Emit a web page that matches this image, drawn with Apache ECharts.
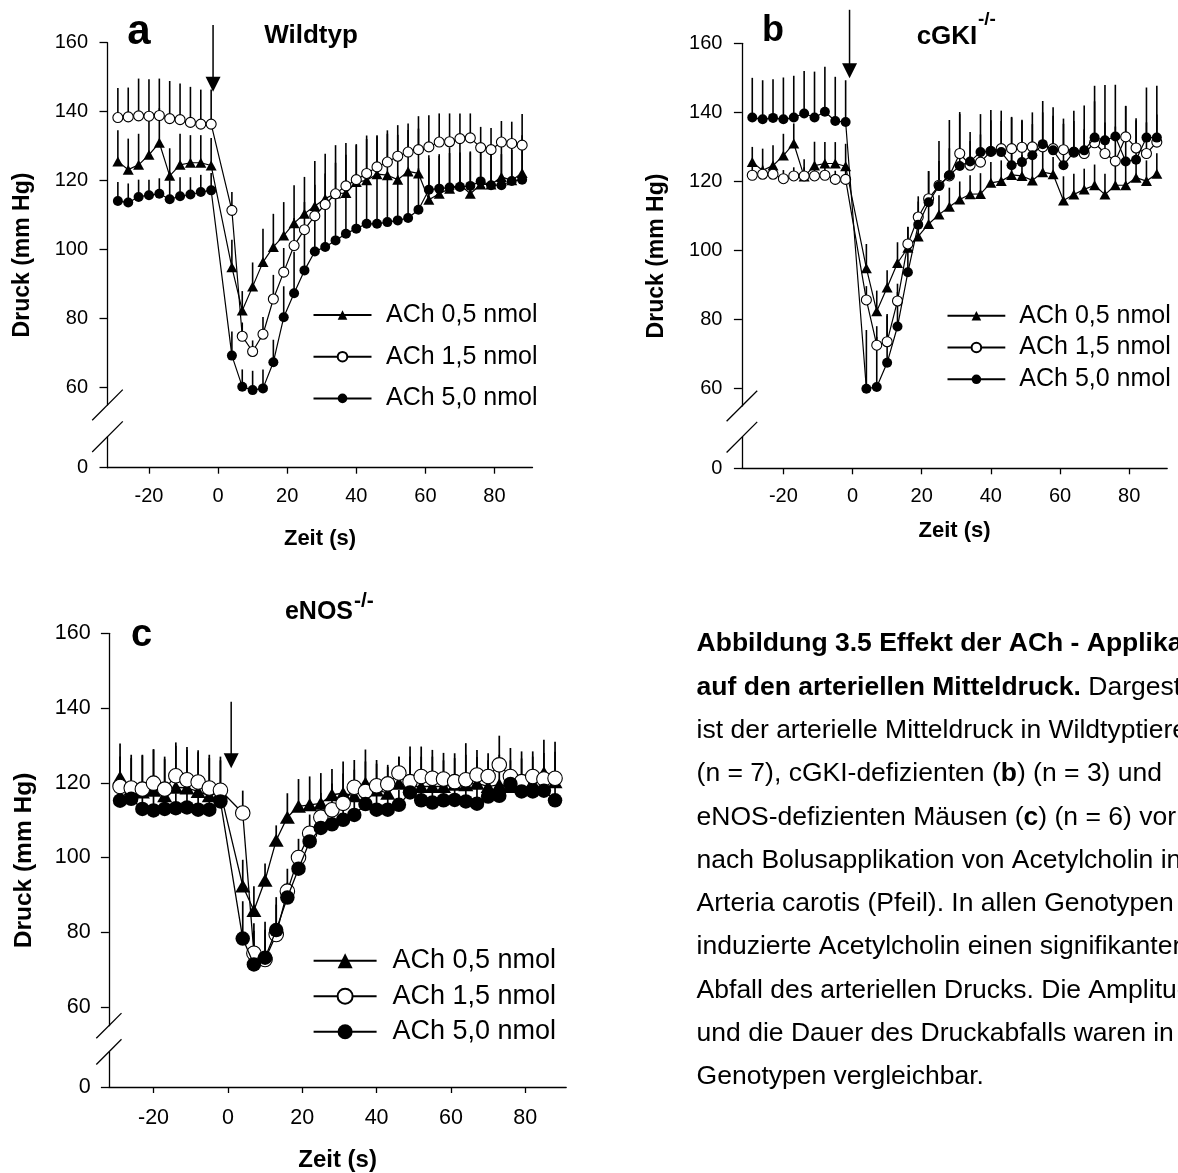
<!DOCTYPE html>
<html><head><meta charset="utf-8">
<script src="https://cdn.jsdelivr.net/npm/echarts@6/dist/echarts.min.js"></script>
<style>html,body{margin:0;padding:0;background:#fff}#c{width:1178px;height:1173px}</style>
</head><body><div id="c"></div>
<script>
// ---------- data ----------
const T = [-29,-26,-23,-20,-17,-14,-11,-8,-5,-2,4,7,10,13,16,19,22,25,28,31,34,37,40,43,46,49,52,55,58,61,64,67,70,73,76,79,82,85,88];
const NAMES = ['ACh 0,5 nmol','ACh 1,5 nmol','ACh 5,0 nmol'];
const X_TICKS = [-20,0,20,40,60,80];
const Y_TICKS = [60,80,100,120,140,160];
const Y_LOW_TICKS = [0];

// Panel a: Wildtyp
const A05  = [125.6,123.2,124.6,127.5,131.0,121.4,124.6,125.2,125.2,124.4, 94.9,82.4,89.3,96.4,100.8,104.1,107.7,110.4,112.7,114.8, 116.3,116.4,119.6,120.1,121.9,121.6,120.3,122.7,122.1,114.5, 116.2,117.7,118.9,116.2,118.9,118.9,121.1,120.1,122.2];
const A05e = [9,9,9,10,10,8,9,8,8,8, 8,5.6,7,9.7,9.6,9.7,11,10.7,13,13, 14,14.5,11,12,11,12,13,12,13,12, 11,12,12,12,11,11,10,10,11];
const A15  = [138.3,138.5,138.8,138.7,138.9,138.0,137.7,136.9,136.4,136.4, 111.4,74.9,70.5,75.5,85.7,93.5,101.2,105.8,109.8,113.1, 116.2,118.5,120.3,122.1,124.0,125.4,127.1,128.3,129.0,129.8, 131.2,131.3,132.2,132.4,129.6,129.0,131.2,130.8,130.3];
const A15e = [8.6,8.5,10.8,10.7,10.7,10.9,10.5,10.3,10,10, 5.3,4,3.2,5,7,7,8,8,9,9, 9,9,10,11,9.2,9.2,9,8.3,9.7,9.2, 8.3,8.2,7.3,7.1,6,6.3,6.1,6.3,9];
const A50  = [114.1,113.7,115.3,115.8,116.2,114.6,115.5,116.0,116.7,117.2, 69.3,60.3,59.3,59.8,67.4,80.4,87.4,94.0,99.5,100.8, 102.7,104.6,106.1,107.5,107.5,108.0,108.5,109.2,111.6,117.4, 117.7,118.0,118.2,118.5,119.8,118.7,118.7,119.9,120.3];
const A50e = [5.5,5.5,5,4.5,4.5,5.5,5.5,5,5,5, 7,5,5.6,5.5,6.5,9,12,12,13,13, 13,13,13,13,13,13,13,13,12,10, 10,10,10,10,9,9,9,9,9];

// Panel b: cGKI-/-
const B05  = [125.6,123.2,124.6,127.5,131.0,121.4,124.6,125.2,125.2,124.4, 94.9,82.4,89.3,96.4,100.8,104.1,107.7,110.4,112.7,114.8, 116.3,116.4,119.6,120.1,121.9,121.6,120.3,122.7,122.1,114.5, 116.2,117.7,118.9,116.2,118.9,118.9,121.1,120.1,122.2];
const B05e = [4.4,6.3,5.9,6.3,5.8,5,6.9,6.2,6.2,6.5, 7,6,5,6,6,5.5,5.6,5.6,5.5,5.2, 5.5,6,6,6,6,6,6,6,5,7, 6,6,6,6,6,6,6,6,6];
const B15  = [121.8,122.1,122.1,120.8,121.6,121.6,121.6,121.8,120.6,120.6, 85.7,72.6,73.6,85.4,101.9,109.7,115.0,118.9,121.6,128.1, 124.7,125.6,128.7,129.5,129.5,129.9,130.0,130.0,129.5,129.2, 128.5,128.1,131.2,128.1,125.9,132.9,129.7,128.1,131.4];
const B15e = [2.5,2.5,2.5,2.5,2.5,2.5,2.5,2.5,2.5,2.5, 4,5.5,8,5,5,6,8,7,8,12, 7,8,9,8,9,8,10,10,12,9, 9,7,12,9,10,9,8,9,8];
const B50  = [138.5,138.0,138.4,138.0,138.5,139.7,138.5,140.2,137.5,137.2, 60.0,60.5,67.5,78.0,93.7,107.5,114.0,118.7,121.8,124.5, 125.8,128.5,128.7,128.5,124.7,125.6,127.6,130.8,129.0,124.7, 128.5,129.0,132.7,131.9,133.0,125.8,126.3,132.7,132.7];
const B50e = [11.5,11.3,11.2,12.1,12.1,12.3,13.3,13.0,12.8,12.1, 17,14.5,13.7,10,7,6.7,9,13,16,15, 8.5,11,12,12,14,12,9,12.5,10,12, 12,13,15,16,15,16,12,14.5,15];

// Panel c: eNOS-/-
const C05  = [121.5,118.5,117.5,118,116.5,118.8,118.6,117.7,116.5,117.5, 92.4,85.8,93.9,104.6,110.8,113.7,114.1,114.5,116.8,117.2, 116.5,119.9,118.1,117.2,119.9,119.0,119.0,119.0,119.0,119.6, 119.5,119.9,119.0,119.5,119.0,119.5,120.0,122.7,120.3];
const C05e = [9,9,10,11,10.5,12,11,11,11,9.5, 7,6.5,4.5,4,6.4,7.3,7.6,8.1,6.9,8.5, 7,9,7,7,7,8,8,8,7,7, 8,7,7,8,7,7,7,8.8,8];
const C15  = [119.0,118.6,118.3,119.9,118.3,121.9,120.8,120.2,118.6,118.0, 111.9,74.4,72.7,79.4,91.0,100.0,106.5,110.8,112.8,114.5, 118.8,117.7,119.2,119.7,122.6,120.3,121.7,121.2,121.0,120.3, 120.8,122.1,121.7,124.8,121.7,120.3,121.7,121.0,121.2];
const C15e = [8,8,9,9,8,8,8,8,8,8, 6,8,8,8,6,5,5,6.5,7,8, 7.3,8,6.9,5.1,4.4,9.4,8,7.6,7,7.6, 9.8,6.7,6.2,7.8,7.6,8.1,6.7,7,9.8];
const C50  = [115.2,115.7,113.0,112.6,113.0,113.2,113.4,112.8,112.8,115.0, 78.3,71.4,73.2,80.6,89.3,97.0,104.3,107.9,108.9,110.1, 111.4,114.3,112.8,112.8,114.1,117.4,115.3,114.7,115.3,115.4, 115.0,114.4,116.3,116.5,119.7,117.7,117.7,117.9,115.3];
const C50e = [4,4,4,4,4,4,4,4,4,4, 10,9,9.6,8.8,4,4,4,4,4,4, 4,4,4,4,4,4,4,4,4,4, 4,4,4,4,4,4,4,4,4];

// arrow (injection) : [time, top value, tip value]
const ARROWS = [[-1.45,165.1,145.8],[-0.87,169.7,149.9],[0.89,141.7,123.9]];

const PANEL_DATA = [
  {vals:[A05,A15,A50], errs:[A05e,A15e,A50e], letter:'a', title:'Wildtyp', sup:''},
  {vals:[B05,B15,B50], errs:[B05e,B15e,B50e], letter:'b', title:'cGKI', sup:'-/-'},
  {vals:[C05,C15,C50], errs:[C05e,C15e,C50e], letter:'c', title:'eNOS', sup:'-/-'}
];

const CAPTION = [
  [['b','Abbildung 3.5 Effekt der ACh - Applikation']],
  [['b','auf den arteriellen Mitteldruck.'],['r',' Dargestellt']],
  [['r','ist der arterielle Mitteldruck in Wildtyptieren']],
  [['r','(n = 7), cGKI-defizienten ('],['b','b'],['r',') (n = 3) und']],
  [['r','eNOS-defizienten Mäusen ('],['b','c'],['r',') (n = 6) vor']],
  [['r','nach Bolusapplikation von Acetylcholin in']],
  [['r','Arteria carotis (Pfeil). In allen Genotypen']],
  [['r','induzierte Acetylcholin einen signifikanten']],
  [['r','Abfall des arteriellen Drucks. Die Amplitude']],
  [['r','und die Dauer des Druckabfalls waren in']],
  [['r','Genotypen vergleichbar.']]
];

// ---------- layout / style ----------
const FONT = '"Liberation Sans", Arial, Helvetica, sans-serif';
const X_MIN = -32, X_MAX = 91, Y_BREAK = 55, Y_MAX = 160;
const LAYOUT = [
  {left:107.5, top:42.7, width:425, ppu:3.45, lowMax:9, zeroY:467.7, tickFont:20, xMargin:18.5, yMargin:19.5, nameFont:22, nameGap:60,
   sym:10, tri:[11,10], lw:1.2, ew:1.6, slash:15.3,
   legend:{left:312.5, top:302.5, itemWidth:58, itemHeight:12, itemGap:16.7, font:25, pad:9.5},
   ylab:{x:23, y:255, size:23}, letter:{x:139, y:32, size:42}, title:{x:311, y:36, size:26}},
  {left:741.9, top:43.3, width:425.3, ppu:3.454, lowMax:9, zeroY:468.3, tickFont:20, xMargin:18.5, yMargin:19.5, nameFont:22, nameGap:52,
   sym:10, tri:[11,10], lw:1.2, ew:1.6, slash:15.3,
   legend:{left:946.5, top:303.2, itemWidth:57.8, itemHeight:12, itemGap:6.8, font:25, pad:9},
   ylab:{x:657, y:256, size:23}, letter:{x:773, y:31, size:36}, title:{x:947, y:37, size:26, supX:978, supY:20, supSize:19}},
  {left:108.9, top:633.3, width:457.3, ppu:3.737, lowMax:10, zeroY:1089.3, tickFont:21.5, xMargin:20, yMargin:18.3, nameFont:24, nameGap:61,
   sym:14.5, tri:[15,13], lw:1.3, ew:1.7, slash:12.6,
   legend:{left:312.6, top:947.2, itemWidth:63, itemHeight:18.75, itemGap:8.5, font:27, pad:10.8},
   ylab:{x:24, y:860.5, size:24.5}, letter:{x:141.5, y:635.5, size:38}, title:{x:319, y:612, size:25, supX:354, supY:601, supSize:21}}
];

const SYMBOLS = ['triangle','circle','circle'];
const grids = [], xAxes = [], yAxes = [], series = [], legends = [];
const axisLineStyle = {color:'#000', width:1.3};

LAYOUT.forEach((L, p) => {
  const mainH = (Y_MAX - Y_BREAK) * L.ppu;
  grids.push({left:L.left, top:L.top, width:L.width, height:mainH});
  const lowH = L.lowMax * L.ppu;
  grids.push({left:L.left, top:L.zeroY - lowH, width:L.width, height:lowH});

  const tickLbl = {color:'#000', fontSize:L.tickFont, fontFamily:FONT};
  xAxes.push({gridIndex:2*p, type:'value', min:X_MIN, max:X_MAX, show:false});
  xAxes.push({gridIndex:2*p+1, type:'value', min:X_MIN, max:X_MAX,
    axisLine:{show:true, onZero:false, lineStyle:axisLineStyle},
    axisTick:{show:true, length:6, customValues:X_TICKS, lineStyle:axisLineStyle},
    axisLabel:{show:true, customValues:X_TICKS, margin:L.xMargin, ...tickLbl},
    splitLine:{show:false},
    name:'Zeit (s)', nameLocation:'middle', nameGap:L.nameGap,
    nameTextStyle:{color:'#000', fontWeight:'bold', fontSize:L.nameFont, fontFamily:FONT}});
  yAxes.push({gridIndex:2*p, type:'value', min:Y_BREAK, max:Y_MAX,
    axisLine:{show:true, onZero:false, lineStyle:axisLineStyle},
    axisTick:{show:true, length:8, customValues:Y_TICKS, lineStyle:axisLineStyle},
    axisLabel:{show:true, customValues:Y_TICKS, margin:L.yMargin, ...tickLbl},
    splitLine:{show:false}});
  yAxes.push({gridIndex:2*p+1, type:'value', min:0, max:L.lowMax,
    axisLine:{show:true, onZero:false, lineStyle:axisLineStyle},
    axisTick:{show:true, length:8, customValues:Y_LOW_TICKS, lineStyle:axisLineStyle},
    axisLabel:{show:true, customValues:Y_LOW_TICKS, margin:L.yMargin, ...tickLbl},
    splitLine:{show:false}});

  const D = PANEL_DATA[p];
  [0,2,1].forEach(k => {
    const v = D.vals[k], e = D.errs[k];
    series.push({type:'custom', name:'SE '+NAMES[k], xAxisIndex:2*p, yAxisIndex:2*p, silent:true, z:1,
      data:T.map((t,i) => [t, v[i], v[i] + e[i]]),
      encode:{x:0, y:[1,2]},
      renderItem:(params, api) => {
        const a = api.coord([api.value(0), api.value(1)]);
        const b = api.coord([api.value(0), api.value(2)]);
        return {type:'line', shape:{x1:a[0], y1:a[1], x2:b[0], y2:b[1]}, style:{stroke:'#000', lineWidth:L.ew}};
      }});
  });
  [0,2,1].forEach(k => {
    const v = D.vals[k];
    const open = (k === 1);
    series.push({type:'line', name:NAMES[k], xAxisIndex:2*p, yAxisIndex:2*p, z:2+k, silent:true,
      data:T.map((t,i) => [t, v[i]]),
      symbol:SYMBOLS[k], symbolSize:(k === 0 ? L.tri : L.sym), showSymbol:true,
      lineStyle:{color:'#000', width:L.lw},
      itemStyle: open ? {color:'#fff', borderColor:'#000', borderWidth:1.1} : {color:'#000', borderColor:'#000', borderWidth:0},
      emphasis:{disabled:true}});
  });
  const G = L.legend;
  legends.push({data:NAMES, orient:'vertical', left:G.left, top:G.top, padding:0,
    itemWidth:G.itemWidth, itemHeight:G.itemHeight, itemGap:G.itemGap, selectedMode:false,
    textStyle:{color:'#000', fontSize:G.font, lineHeight:G.font, fontFamily:FONT, padding:[0,0,0,G.pad]}});
});

const chart = echarts.init(document.getElementById('c'), null, {renderer:'canvas', width:1178, height:1173});
chart.setOption({animation:false, backgroundColor:'#fff', grid:grids, xAxis:xAxes, yAxis:yAxes, series:series, legend:legends});

// ---------- annotations ----------
const gfx = [];
function txt(x, y, s, size, bold, rot, align) {
  gfx.push({type:'text', x:x, y:y, rotation:rot || 0, z:100,
    style:{text:s, x:0, y:0, fill:'#000', font:(bold ? 'bold ' : '') + size + 'px ' + FONT,
      align:align || 'center', textAlign:align || 'center', verticalAlign:'middle', textVerticalAlign:'middle'}});
}
LAYOUT.forEach((L, p) => {
  const mi = {xAxisIndex:2*p, yAxisIndex:2*p}, li = {xAxisIndex:2*p+1, yAxisIndex:2*p+1};
  const s1 = chart.convertToPixel(mi, [X_MIN, Y_BREAK]);
  const s2 = chart.convertToPixel(li, [X_MIN, L.lowMax]);
  [s1, s2].forEach(pt => gfx.push({type:'line', z:100,
    shape:{x1:pt[0]-L.slash, y1:pt[1]+L.slash, x2:pt[0]+L.slash, y2:pt[1]-L.slash},
    style:{stroke:'#000', lineWidth:1.3}}));
  const A = ARROWS[p];
  const p0 = chart.convertToPixel(mi, [A[0], A[1]]);
  const p1 = chart.convertToPixel(mi, [A[0], A[2]]);
  gfx.push({type:'line', z:100, shape:{x1:p0[0], y1:p0[1], x2:p1[0], y2:p1[1]-12}, style:{stroke:'#000', lineWidth:1.5}});
  gfx.push({type:'polygon', z:100, shape:{points:[[p1[0]-7.5, p1[1]-15],[p1[0]+7.5, p1[1]-15],[p1[0], p1[1]]]}, style:{fill:'#000'}});
  const D = PANEL_DATA[p];
  txt(L.ylab.x, L.ylab.y, 'Druck (mm Hg)', L.ylab.size, true, Math.PI/2);
  txt(L.letter.x, L.letter.y, D.letter, L.letter.size, true);
  txt(L.title.x, L.title.y, D.title, L.title.size, true);
  if (D.sup) txt(L.title.supX, L.title.supY, D.sup, L.title.supSize, true, 0, 'left');
});
const CAP_X = 696.6, CAP_Y0 = 644, CAP_DY = 43.3, CAP_FS = 26.5;
CAPTION.forEach((parts, i) => {
  gfx.push({type:'text', x:CAP_X, y:CAP_Y0 + i*CAP_DY, z:100,
    style:{text:parts.map(([s,t]) => '{' + s + '|' + t + '}').join(''),
      rich:{b:{fontWeight:'bold', fontSize:CAP_FS, fontFamily:FONT, fill:'#000'}, r:{fontWeight:'normal', fontSize:CAP_FS, fontFamily:FONT, fill:'#000'}},
      fill:'#000', fontSize:CAP_FS, fontFamily:FONT, align:'left', textAlign:'left', verticalAlign:'middle', textVerticalAlign:'middle'}});
});
chart.setOption({graphic:{elements:gfx}});
</script>
</body></html>
